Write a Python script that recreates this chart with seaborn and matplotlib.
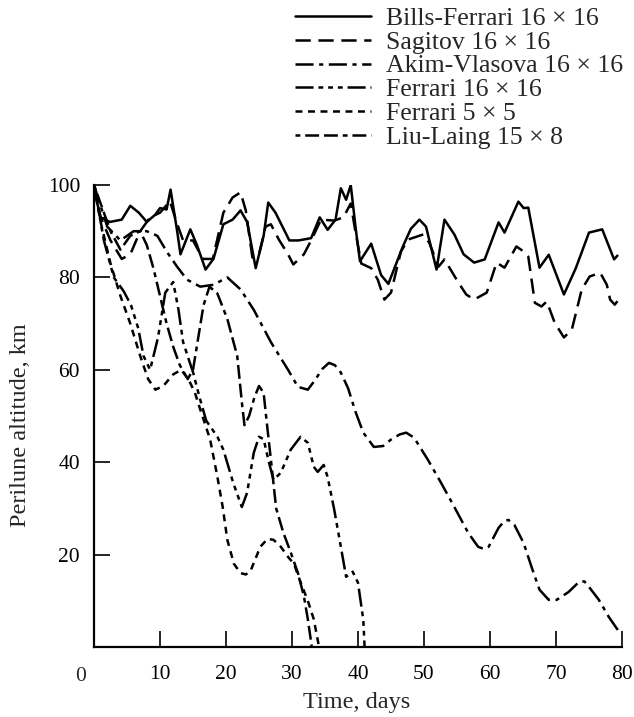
import numpy as np
import pandas as pd
import matplotlib
matplotlib.use("Agg")
import matplotlib.pyplot as plt
import seaborn as sns

# ---- data: perilune altitude (km) versus time (days) for each gravity model ----
bf_t = [0, 0.5, 1, 2.4, 4.2, 5.5, 6.8, 8, 9.3, 10, 11, 11.6, 12.6, 13.1, 14.6, 15.6, 16.9,
        18.1, 19.6, 21, 22.2, 23.2, 24.5, 25.7, 26.4, 27.5, 29.6, 31, 32.9, 34.2, 35.4,
        36.6, 37.4, 38.2, 38.9, 39.7, 40.3, 42, 43.5, 44.6, 46.8, 48, 49.3, 50.3, 51.9,
        53.1, 54.6, 56, 57.6, 59.2, 61.3, 62.2, 64.3, 65.1, 65.8, 67.5, 68.9, 71.2, 73,
        75, 77, 78.8, 79.3]
bf_h = [100, 96, 93, 92, 92.5, 95.5, 94, 92, 93.6, 95, 94.7, 99, 90, 85, 90.4, 87, 81.7,
        84, 91.5, 92.5, 94.5, 92, 82, 89, 96.2, 94, 88, 88, 88.5, 93, 90.3,
        92.5, 99.3, 96.8, 100, 90, 83.5, 87.3, 80.5, 78.6, 86.7, 90.5, 92.5, 91, 81.7,
        92.5, 89.3, 85, 83.2, 83.9, 91.9, 89.7, 96.4, 95, 95.1, 82.1, 84.9, 76.3, 82,
        89.7, 90.4, 83.9, 84.7]

sg_t = [0, 1, 2.5, 4.2, 5.5, 7, 8.5, 10, 11.5, 12.5, 13.5, 15, 16.5, 18, 19.6, 21, 22.2,
        23, 24, 25, 26, 26.8, 28, 29.4, 30.2, 31.8, 32.9, 34.4, 36.4, 37.8, 38.9, 39.6,
        40.5, 42, 43, 44, 45, 46.5, 47.6, 49.9, 50.8, 52.2, 53.1, 55.2, 56.4, 57.6, 59.5,
        61, 62.2, 64, 65.1, 65.8, 66.8, 67.8, 68.6, 69.8, 71.2, 72.4, 73.9, 75.1, 76.7,
        77.7, 78.2, 78.9, 79.5]
sg_h = [100, 93, 88, 84, 85, 90, 93, 94, 96.5, 92, 88, 88, 84, 84, 94, 97.3, 98.4,
        94.5, 84.3, 85, 91, 91.5, 88.2, 85, 82.8, 85, 88, 92.5, 92.3, 93, 96, 90,
        83, 82, 79.5, 75.2, 76.7, 85.6, 88.2, 89.3, 87.5, 82.3, 83.9, 78.9, 76.3, 75.2, 76.7,
        83.2, 82.1, 86.7, 85.6, 84.5, 74.5, 73.7, 74.8, 70.2, 67, 68.7, 77.4, 80.2, 81,
        78.4, 75.2, 74.1, 75.2]

av_t = [0, 2, 4, 6, 8, 9.6, 11.1, 12.6, 14.1, 16.1, 18.1, 20.2, 22.2, 24.2, 26.8, 29.4,
        30.9, 32.4, 33.5, 34.6, 35.6, 36.5, 37.4, 38.5, 39.6, 40.8, 42.4, 43.8, 45, 46.3,
        47.3, 48.5, 50.6, 52.6, 54.6, 56.7, 58.2, 59.1, 59.8, 61.3, 62.2, 62.8, 63.7, 65.1,
        66.3, 67.5, 68.9, 70.1, 71.9, 73.5, 74.3, 75, 76.5, 78, 79.7]
av_h = [100, 91, 88, 90, 90, 89, 85.4, 82.3, 79.5, 78, 78.4, 80, 77.4, 73, 66, 60,
        56.3, 55.7, 57.8, 60.2, 61.5, 61, 59.4, 56, 51, 46.4, 43.3, 43.5, 44.9, 46,
        46.4, 45.3, 40.5, 35.5, 30.3, 24.7, 21.7, 21.2, 21.7, 25.8, 27.3, 27.5, 26.4, 22.5,
        17.3, 12.4, 10.2, 10.2, 11.9, 14.1, 14.2, 13, 10.2, 6.5, 3]

f16_t = [0, 1.5, 3, 4.5, 5.6, 6.7, 7.5, 8.5, 9.7, 10.8, 12, 12.8, 13.5, 14.3, 15, 16, 17,
         18.7, 19.6, 21.1, 22.4, 23.2, 24.2, 25, 25.7, 26.5, 27.2, 28.3, 29.8, 31.3, 32.4,
         33.3, 33.9, 34.8, 35.4, 36.4, 37.4, 38.2, 39.2, 40, 40.8, 41]
f16_h = [100, 88, 80, 77, 74, 69, 63, 60, 67, 76.7, 79, 73, 66, 62.5, 59.5, 54, 49,
         45.5, 42.7, 35.5, 30.3, 33.4, 42, 45.5, 45, 40, 36.2, 37.7, 42.7, 45.5, 44.2,
         39, 37.9, 39.4, 36.8, 29.7, 21.7, 15.2, 16.3, 13.9, 5.9, 0]

f5_t = [0, 1, 2.5, 4, 5.5, 7, 8.2, 9.3, 10.5, 12, 13.2, 14.3, 15.3, 16.1, 17.6, 18.7,
        19.5, 20.2, 21.2, 22.2, 23, 23.7, 25.2, 26.3, 27.2, 28.3, 29.4, 30.3, 31.3, 32.4,
        33.3, 34.1]
f5_h = [100, 92, 83, 76, 70, 63, 58, 55.7, 56.5, 59, 60, 58, 55, 51.4, 44.9, 36.8,
        30.3, 23.2, 18, 16, 15.7, 16.4, 21.7, 23.4, 23.2, 21.7, 19.5, 18, 14, 10,
        6, 0]

ll_t = [0, 1, 2.5, 4, 5.5, 7, 8, 9, 10, 11, 12, 13, 14.2, 15, 15.8, 16.6, 17.5, 18.7,
        20.2, 21.7, 22.4, 22.8, 23.5, 24.3, 25, 25.7, 26.3, 27, 27.6, 28.7, 29.8, 30.9,
        31.8, 32.4, 33]
ll_h = [100, 96, 90, 86, 89, 90, 87, 82, 76, 70, 65, 61, 58, 60, 67, 74, 78, 76.5,
        71, 63, 53, 48, 50, 54, 56.5, 55, 47, 38, 30, 24.7, 20.5, 16, 11, 6, 0]

series = [
    ("Bills-Ferrari 16 × 16", bf_t, bf_h, "-"),
    ("Sagitov 16 × 16", sg_t, sg_h, (0, (11, 5.5))),
    ("Akim-Vlasova 16 × 16", av_t, av_h, (0, (13, 4, 3, 4))),
    ("Ferrari 16 × 16", f16_t, f16_h, (0, (13, 3.5, 3.5, 3.5, 3.5, 3.5, 3.5, 3.5))),
    ("Ferrari 5 × 5", f5_t, f5_h, (0, (5, 4))),
    ("Liu-Laing 15 × 8", ll_t, ll_h, (0, (3.5, 3.5, 10, 3.5, 10, 3.5))),
]

x_ticks = [10, 20, 30, 40, 50, 60, 70, 80]
y_ticks = [20, 40, 60, 80, 100]

# ---- style ----
sns.set_style("ticks")
plt.rcParams["font.family"] = ["Liberation Serif", "DejaVu Serif"]
plt.rcParams["lines.scale_dashes"] = False

fig = plt.figure(figsize=(6.34, 7.17), dpi=100)
ax = fig.add_axes([94 / 634, 1 - 647 / 717, (622 - 94) / 634, (647 - 185) / 717])

for name, t, h, ls in series:
    df = pd.DataFrame({"t": t, "h": h})
    sns.lineplot(data=df, x="t", y="h", ax=ax, color="black", linewidth=1.8,
                 linestyle=ls, estimator=None, sort=False, label=name)

ax.set_xlim(0, 80)
ax.set_ylim(0, 100)
ax.set_xticks(x_ticks)
ax.set_yticks(y_ticks)
ax.tick_params(direction="in", length=11.5, width=1.2, labelsize=15.5, colors="black")
ax.tick_params(axis="x", pad=13)
ax.tick_params(axis="y", pad=10)
for side in ("top", "right"):
    ax.spines[side].set_visible(False)
for side in ("left", "bottom"):
    ax.spines[side].set_linewidth(1.6)
    ax.spines[side].set_color("black")

# origin label shared by both axes
ax.annotate("0", xy=(0, 0), xycoords="data", xytext=(-9.5, -21),
            textcoords="offset points", ha="center", va="center", fontsize=15.5)

ax.set_xlabel("Time, days", fontsize=17.5)
ax.set_ylabel("Perilune altitude, km", fontsize=17.5)
ax.xaxis.set_label_coords(0.498, -0.097)
ax.yaxis.set_label_coords(-0.12, 0.48)

handles, labels = ax.get_legend_handles_labels()
if ax.get_legend() is not None:
    ax.get_legend().remove()
fig.legend(handles, labels, loc="upper left", bbox_to_anchor=(295 / 634, 1 - 7 / 717),
           frameon=False, fontsize=18.5, handlelength=2.95, handletextpad=0.6,
           labelspacing=0.03, borderpad=0, borderaxespad=0)

fig.savefig("out.png", dpi=100)
